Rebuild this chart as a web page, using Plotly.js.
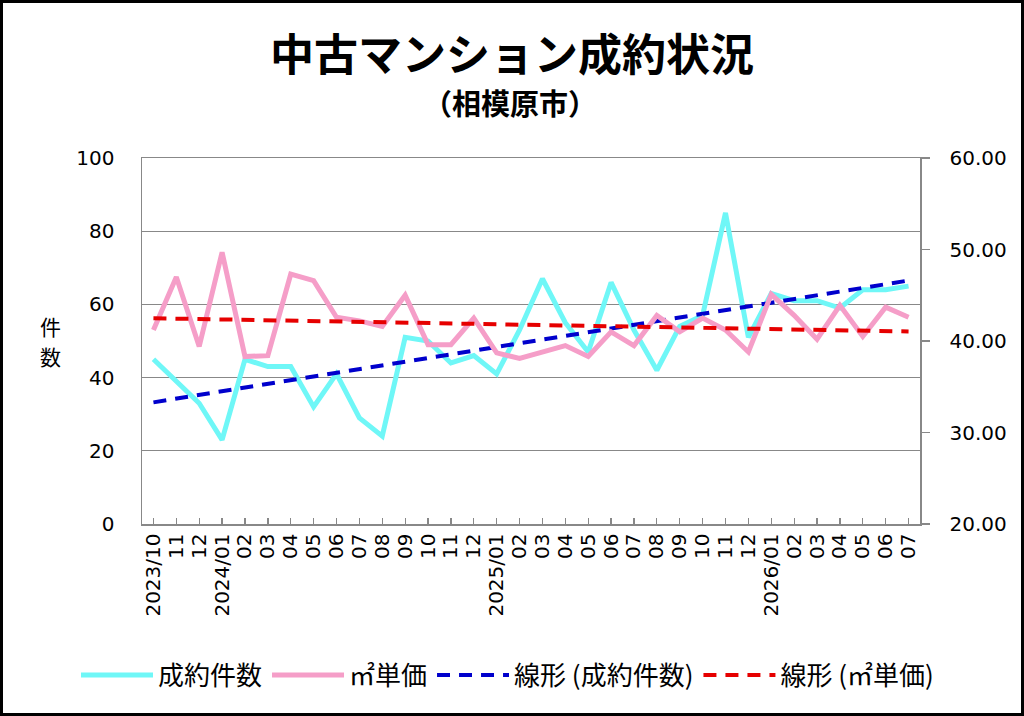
<!DOCTYPE html>
<html>
<head>
<meta charset="utf-8">
<script src="https://cdn.plot.ly/plotly-3.0.1.min.js"></script>
<style>
  html, body { margin: 0; padding: 0; background: #fff; }
  #wrap { position: relative; width: 1024px; height: 716px; }
  #chart { width: 1024px; height: 716px; }
  #frame { position: absolute; left: 0; top: 0; width: 1024px; height: 716px; box-sizing: border-box; border: 3px solid #000; pointer-events: none; }
</style>
</head>
<body>
<div id="wrap"><div id="chart"></div><div id="frame"></div></div>
<script>
// Month labels (2023/10 .. 2026/07)
const monthLabels = ["2023/10","11","12","2024/01","02","03","04","05","06","07","08","09","10","11","12",
  "2025/01","02","03","04","05","06","07","08","09","10","11","12",
  "2026/01","02","03","04","05","06","07"];
// 成約件数 (left axis)
const contracts = [45,39,33,23,45,43,43,32,41,29,24,51,50,44,46,41,53,67,55,47,66,53,42,54,57,85,51,63,61,61,59,64,64,65];
// ㎡単価 (right axis)
const unitPrice = [41.2,47.0,39.4,49.7,38.3,38.4,47.3,46.6,42.6,42.2,41.6,45.0,39.6,39.6,42.5,38.7,38.1,38.8,39.5,38.3,41.0,39.5,42.8,41.0,42.5,41.2,38.8,45.1,42.8,40.2,43.9,40.5,43.7,42.6];

const seriesNames = ["成約件数", "㎡単価", "線形 (成約件数)", "線形 (㎡単価)"];

const idx = monthLabels.map((_, i) => i);

// Linear (least squares) trendline, as in the original chart's "線形" series
function linearFit(ys) {
  const n = ys.length;
  const mx = (n - 1) / 2;
  const my = ys.reduce((a, b) => a + b, 0) / n;
  let sxy = 0, sxx = 0;
  ys.forEach((y, i) => { sxy += (i - mx) * (y - my); sxx += (i - mx) * (i - mx); });
  const b = sxy / sxx, a = my - b * mx;
  return ys.map((_, i) => a + b * i);
}

const tickFont = { family: "DejaVu Sans, Verdana, sans-serif", size: 20, color: "#000" };
const cjk = "Noto Sans CJK JP, sans-serif";

const traces = [
  { x: idx, y: contracts, name: seriesNames[0], type: "scatter", mode: "lines", yaxis: "y",
    line: { color: "#6ff7f7", width: 5 } },
  { x: idx, y: unitPrice, name: seriesNames[1], type: "scatter", mode: "lines", yaxis: "y2",
    line: { color: "#f59ec8", width: 5 } },
  { x: idx, y: linearFit(contracts), name: seriesNames[2], type: "scatter", mode: "lines", yaxis: "y",
    line: { color: "#0000cc", width: 4, dash: "13px,9px" } },
  { x: idx, y: linearFit(unitPrice), name: seriesNames[3], type: "scatter", mode: "lines", yaxis: "y2",
    line: { color: "#e60000", width: 4, dash: "13px,9px" } }
];

const layout = {
  width: 1024, height: 716,
  margin: { l: 142, r: 104, t: 158, b: 192, pad: 0 },
  paper_bgcolor: "#fff", plot_bgcolor: "#fff",
  showlegend: true,
  legend: {
    orientation: "h", xref: "paper", x: (76 - 142) / 778, xanchor: "left",
    yref: "paper", y: (524 - 675) / 366, yanchor: "middle",
    font: { family: cjk, size: 26, color: "#000" }, itemwidth: 72, traceorder: "normal"
  },
  xaxis: {
    range: [-0.5, 33.5], tickmode: "array", tickvals: idx, ticktext: monthLabels,
    tickangle: -90, ticks: "inside", ticklen: 6, tickcolor: "#888", tickwidth: 1.3,
    showline: true, linecolor: "#888", linewidth: 1.5, mirror: true,
    showgrid: false, zeroline: false, tickfont: tickFont, fixedrange: true
  },
  yaxis: {
    range: [0, 100], dtick: 20, tick0: 0, showgrid: true, gridcolor: "#888", gridwidth: 1.3,
    showline: true, linecolor: "#888", linewidth: 1.5, ticks: "", zeroline: false,
    tickfont: tickFont, ticklabelstandoff: 22
  },
  yaxis2: {
    range: [20, 60], dtick: 10, tick0: 20, overlaying: "y", side: "right", tickformat: ".2f",
    showgrid: false, showline: true, linecolor: "#888", linewidth: 1.5,
    ticks: "outside", ticklen: 8, tickcolor: "#888", tickwidth: 1.3, zeroline: false,
    tickfont: tickFont, ticklabelstandoff: 16
  },
  annotations: [
    { text: "<b>中古マンション成約状況</b>", xref: "paper", yref: "paper", x: 0.4756, y: 1.2896,
      xanchor: "center", yanchor: "middle", showarrow: false,
      font: { family: cjk, size: 44, color: "#000" } },
    { text: "<b>（相模原市）</b>", xref: "paper", yref: "paper", x: 0.4730, y: 1.153,
      xanchor: "center", yanchor: "middle", showarrow: false,
      font: { family: cjk, size: 29, color: "#000" } },
    { text: "件", xref: "paper", yref: "paper", x: (50 - 142) / 778, y: (524 - 326) / 366,
      xanchor: "center", yanchor: "middle", showarrow: false, borderpad: 0,
      font: { family: cjk, size: 21, color: "#000" } },
    { text: "数", xref: "paper", yref: "paper", x: (50 - 142) / 778, y: (524 - 356) / 366,
      xanchor: "center", yanchor: "middle", showarrow: false, borderpad: 0,
      font: { family: cjk, size: 21, color: "#000" } }
  ]
};

Plotly.newPlot("chart", traces, layout, { displayModeBar: false, staticPlot: true });
</script>
</body>
</html>
